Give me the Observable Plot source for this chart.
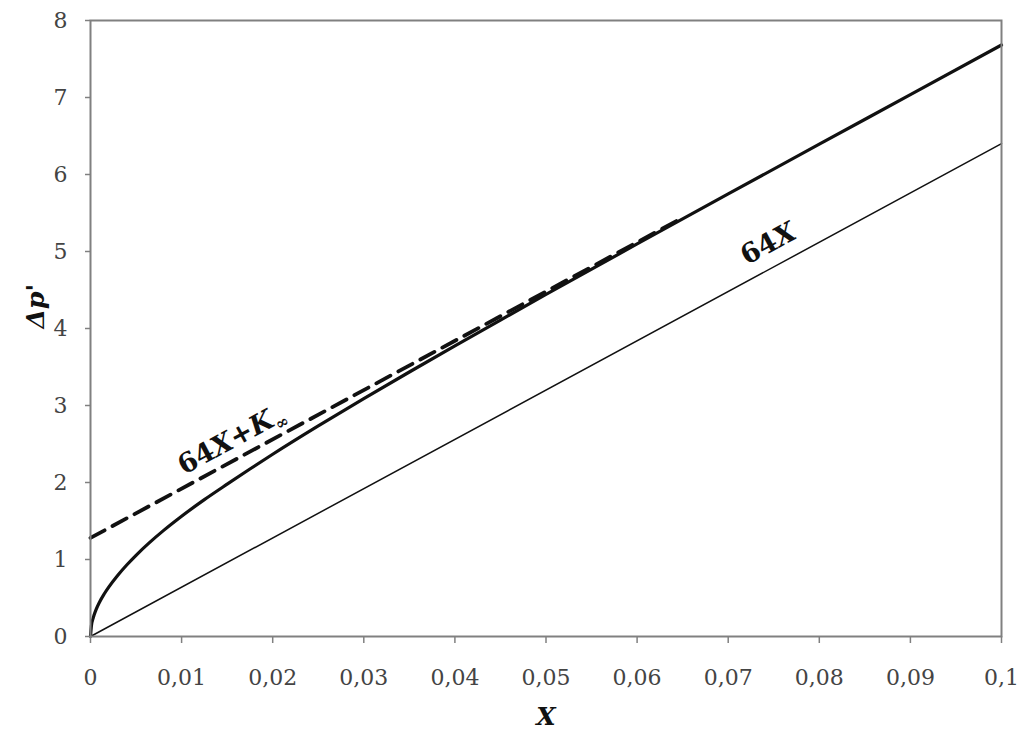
<!DOCTYPE html>
<html><head><meta charset="utf-8">
<script src="https://cdn.jsdelivr.net/npm/d3@7"></script>
<script src="https://cdn.jsdelivr.net/npm/@observablehq/plot@0.6"></script>
<style>
body{margin:0;background:#fff;}
#chart{width:1024px;height:731px;}
</style></head><body><div id="chart"></div>
<script>
// Solid curve (developing flow pressure drop)
const curveX = [0, 0.0001, 0.0003, 0.0006, 0.001, 0.0015, 0.002, 0.003, 0.004, 0.005, 0.0065, 0.008, 0.01, 0.0125, 0.015, 0.0175, 0.02, 0.025, 0.03, 0.035, 0.04, 0.045, 0.05, 0.06, 0.07, 0.08, 0.09, 0.1];
const curveY = [0, 0.14, 0.243, 0.346, 0.449, 0.552, 0.641, 0.796, 0.932, 1.055, 1.222, 1.375, 1.562, 1.777, 1.978, 2.175, 2.367, 2.735, 3.09, 3.435, 3.775, 4.11, 4.442, 5.098, 5.748, 6.394, 7.037, 7.682];
// Dashed asymptote 64X + K∞
const dashX = [0, 0.065];
const dashY = [1.28, 5.44];
// Thin line 64X
const thinX = [0, 0.1];
const thinY = [0, 6.4];
// Ticks
const xTicks = [0, 0.01, 0.02, 0.03, 0.04, 0.05, 0.06, 0.07, 0.08, 0.09, 0.1];
const xTickLabels = ["0", "0,01", "0,02", "0,03", "0,04", "0,05", "0,06", "0,07", "0,08", "0,09", "0,1"];
const yTicks = [0, 1, 2, 3, 4, 5, 6, 7, 8];
// Annotations
const annText = ["64X+K∞", "64X"];
const annX = [0.0155, 0.0744];
const annY = [2.56, 5.10];

const curve = curveX.map((x, i) => ({x, y: curveY[i]}));
const dash = dashX.map((x, i) => ({x, y: dashY[i]}));
const thin = thinX.map((x, i) => ({x, y: thinY[i]}));
const ann = annText.map((t, i) => ({t, x: annX[i], y: annY[i]}));

const serif = "'DejaVu Serif', serif";
const chart = Plot.plot({
  width: 1024, height: 731,
  marginLeft: 90, marginRight: 23, marginTop: 20, marginBottom: 95,
  style: {fontFamily: serif, fontSize: "19px", background: "#fff"},
  x: {domain: [0, 0.1], ticks: xTicks, label: null},
  y: {domain: [0, 8], ticks: yTicks, label: null},
  marks: [
    Plot.line(thin, {x: "x", y: "y", stroke: "#111", strokeWidth: 1.5}),
    Plot.line(dash, {x: "x", y: "y", stroke: "#111", strokeWidth: 3.8, strokeDasharray: "16,9"}),
    Plot.line(curve, {x: "x", y: "y", stroke: "#111", strokeWidth: 3.2, curve: "monotone-x"}),
    Plot.frame({stroke: "#808080", strokeWidth: 2}),
    Plot.axisX({ticks: xTicks, tickFormat: (d) => xTickLabels[xTicks.indexOf(d)], tickSize: 7, tickPadding: 26, fontSize: 21, color: "#444", stroke: "#808080", strokeWidth: 1.5, label: null}),
    Plot.axisY({ticks: yTicks, tickSize: 5, tickPadding: 18, fontSize: 21, color: "#444", stroke: "#808080", strokeWidth: 1.5, label: null}),
    Plot.text(ann, {x: "x", y: "y", text: "t", rotate: -28.4, fontSize: 27, fontWeight: "bold", fill: "#111", fontFamily: serif}),
    Plot.text(["X"], {frameAnchor: "bottom", dy: 88, fontSize: 25, fontWeight: "bold", fontStyle: "italic", fill: "#111", fontFamily: serif}),
    Plot.text(["Δp'"], {frameAnchor: "left", dx: -55, rotate: -90, fontSize: 25, fontWeight: "bold", fontStyle: "italic", fill: "#111", fontFamily: serif})
  ]
});
document.getElementById("chart").appendChild(chart);
// enlarge tick labels
d3.select(chart).selectAll("g[aria-label$='tick label']").attr("font-size", 22).selectAll("text").attr("font-size", 22);
// make X italic and ∞ a subscript in annotations
d3.select(chart).selectAll("text").each(function() {
  const t = this.textContent;
  if (t === "64X+K∞" || t === "64X") {
    const el = d3.select(this);
    el.text(null);
    el.append("tspan").text("64");
    el.append("tspan").attr("font-style", "italic").text("X");
    if (t === "64X+K∞") {
      el.append("tspan").text("+");
      el.append("tspan").attr("font-style", "italic").text("K");
      el.append("tspan").attr("font-size", "16").attr("dy", "6").text("∞");
    }
  }
});
</script></body></html>
